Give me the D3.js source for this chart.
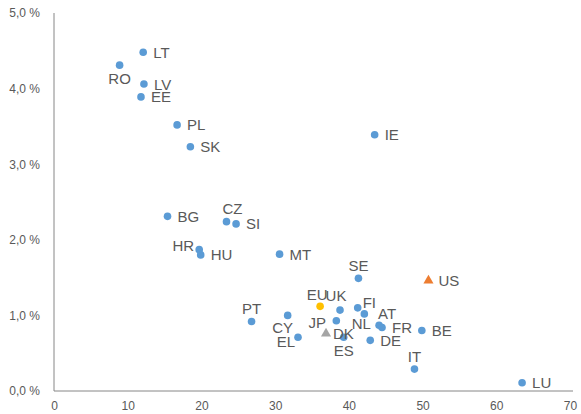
<!DOCTYPE html>
<meta charset="utf-8">
<style>
body { margin: 0; background: #fff; }
.axis line, .axis path { stroke: #868686; }
.tick text { fill: #595959; font-family: "Liberation Sans", Arial, sans-serif; font-size: 12px; }
.lbl { fill: #595959; font-family: "Liberation Sans", Arial, sans-serif; font-size: 15px; }
</style>
<svg width="581" height="414"></svg>
<script src="https://d3js.org/d3.v7.min.js"></script>
<script>
// dados
var paises = ["LT","RO","LV","EE","PL","SK","IE","BG","CZ","SI","HR","HU","MT","SE","US","EU","UK","FI","PT","CY","EL","JP","NL","DK","ES","AT","FR","DE","BE","IT","LU"];
var valoresX = [12.1,8.9,12.2,11.8,16.7,18.5,43.5,15.4,23.4,24.7,19.7,19.9,30.6,41.3,50.8,36.1,38.8,41.2,26.8,31.7,33.1,36.9,42.1,38.3,39.3,44.1,44.5,42.9,49.9,48.9,63.5];
var valoresY = [4.48,4.31,4.06,3.89,3.52,3.23,3.39,2.31,2.24,2.21,1.87,1.80,1.81,1.49,1.46,1.12,1.07,1.10,0.92,1.00,0.71,0.76,1.02,0.93,0.71,0.87,0.84,0.67,0.80,0.29,0.11];
var ticksX = [0,10,20,30,40,50,60,70];
var ticksY = [0,1,2,3,4,5];

// tipo de marcador e posição do rótulo
var triangulos = {US: "#ED7D31", JP: "#A5A5A5"};
var corEU = "#FFC000", corPadrao = "#5B9BD5";
var posRotulo = {RO: "b", CZ: [6,-13], HR: "l4", SE: "t", EU: [-3,-12], UK: [-4,-15], FI: [5,-5,"s"],
  PT: "t", CY: [-5,12], EL: "l", JP: [0,-11,"e"], NL: [-3,10], DK: [7,13], ES: "b", AT: [8,-12], IT: "t"};

var svg = d3.select("svg");
var x = d3.scaleLinear().domain([0, 70]).range([54, 570]);
var y = d3.scaleLinear().domain([0, 5]).range([391, 13]);

svg.append("g")
    .attr("class", "axis")
    .attr("transform", "translate(0,391)")
    .call(d3.axisBottom(x).tickValues(ticksX).tickSize(0).tickPadding(10).tickFormat(d3.format("d")))
    .call(g => g.select(".domain").attr("d", "M54,0H573"));

var fmtY = d => d.toFixed(1).replace(".", ",") + " %";
svg.append("g")
    .attr("class", "axis")
    .attr("transform", "translate(54,0)")
    .call(d3.axisLeft(y).tickValues(ticksY).tickSize(0).tickPadding(14).tickFormat(fmtY))
    .call(g => g.select(".domain").attr("d", "M0,13V391"));

var dados = paises.map((p, i) => ({p: p, vx: valoresX[i], vy: valoresY[i]}));

var pontos = svg.append("g");
dados.forEach(d => {
  if (triangulos[d.p]) {
    pontos.append("path")
      .attr("d", d3.symbol(d3.symbolTriangle, 44)())
      .attr("transform", "translate(" + x(d.vx) + "," + y(d.vy) + ")")
      .attr("fill", triangulos[d.p]);
  } else {
    pontos.append("circle")
      .attr("cx", x(d.vx)).attr("cy", y(d.vy)).attr("r", 3.8)
      .attr("fill", d.p === "EU" ? corEU : corPadrao);
  }
});

var rotulos = svg.append("g");
dados.forEach(d => {
  var px = x(d.vx), py = y(d.vy), pos = posRotulo[d.p] || "r";
  var t = rotulos.append("text").attr("class", "lbl").attr("dominant-baseline", "central").text(d.p);
  if (pos === "r") t.attr("x", px + 10).attr("y", py);
  else if (pos === "l") t.attr("x", px - 3).attr("y", py + 4).attr("text-anchor", "end");
  else if (pos === "l4") t.attr("x", px - 5).attr("y", py - 4).attr("text-anchor", "end");
  else if (pos === "t") t.attr("x", px).attr("y", py - 13).attr("text-anchor", "middle");
  else if (pos === "b") t.attr("x", px).attr("y", py + 13).attr("text-anchor", "middle");
  else {
    var anc = pos[2] === "s" ? "start" : pos[2] === "e" ? "end" : "middle";
    t.attr("x", px + pos[0]).attr("y", py + pos[1]).attr("text-anchor", anc);
  }
});
</script>
